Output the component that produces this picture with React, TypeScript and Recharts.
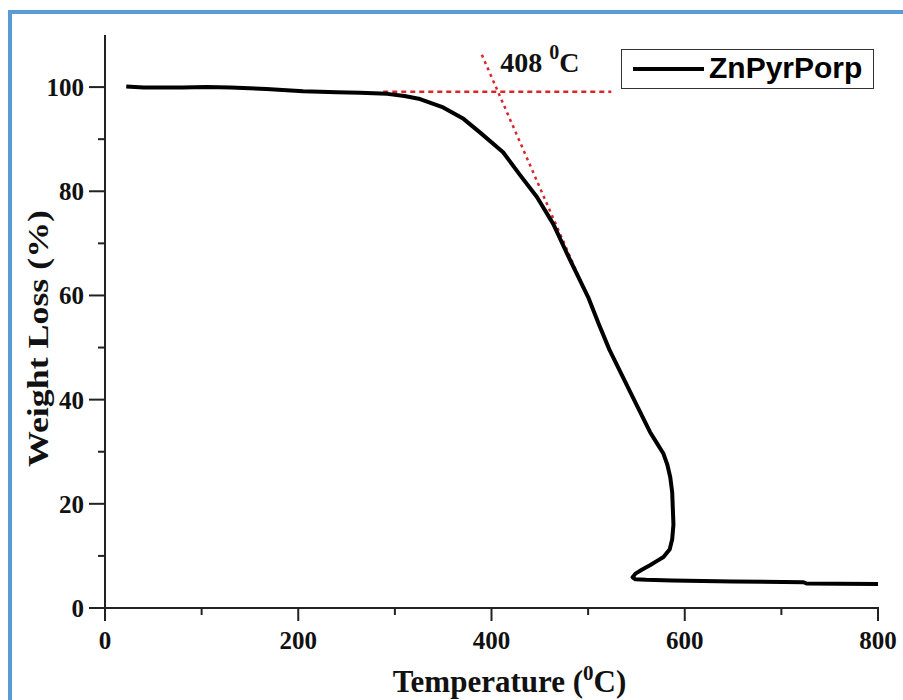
import React from 'react';
import {
  LineChart,
  Line,
  XAxis,
  YAxis,
  Legend,
  Label,
  ReferenceLine,
  ReferenceDot,
} from 'recharts';

// TGA trace (temperature in °C, weight in %)
const temps = [
  22, 40, 60, 80, 105, 130, 167, 205, 240, 264, 292, 310, 326, 350, 371,
  388, 412, 430, 447, 464, 480, 500, 511, 522, 543, 564, 571, 578, 582, 585,
  587, 588.3, 587, 584.5, 578, 571, 564, 556, 549, 546, 549, 560, 587, 650, 723,
  726, 760, 800,
];
const weights = [
  100.1, 99.9, 99.9, 99.9, 100.0, 99.9, 99.65, 99.2, 99.0, 98.9, 98.7, 98.3, 97.7, 96.1, 93.9,
  91.3, 87.5, 83.0, 78.9, 73.7, 67.3, 59.7, 54.5, 49.6, 41.7, 33.8, 31.7, 29.6, 27.5, 25.1,
  22.2, 16.0, 13.2, 11.3, 9.8, 9.0, 8.2, 7.4, 6.6, 5.9, 5.5, 5.4, 5.3, 5.1, 4.95,
  4.7, 4.65, 4.6,
];

const xTicks = [0, 100, 200, 300, 400, 500, 600, 700, 800];
const yTicks = [0, 10, 20, 30, 40, 50, 60, 70, 80, 90, 100];

// onset construction lines
const baselineSeg = [{ x: 288, y: 99.1 }, { x: 524, y: 99.1 }];
const tangentSeg = [{ x: 390, y: 106.2 }, { x: 499, y: 59.9 }];
const onsetLabel = { x: 409, y: 102.9, text: '408' };

const seriesName = 'ZnPyrPorp';

const data = temps.map((t, i) => ({ t, w: weights[i] }));

const SERIF = '"Liberation Serif", "Times New Roman", serif';
const SANS = '"Liberation Sans", Arial, sans-serif';
const AXIS = '#222';
const RED = '#d7262c';

const X_TICK = 13;
const X_GAP = 10;
const Y_TICK = 16;
const Y_GAP = 5;
const MINOR = 7;

const XTick = (props: any) => {
  const { x, y, payload } = props;
  const major = payload.value % 200 === 0;
  const axisY = y - X_TICK - X_GAP;
  return (
    <g>
      <line x1={x} x2={x} y1={axisY - 1} y2={axisY + (major ? X_TICK : MINOR)} stroke={AXIS} strokeWidth={2} />
      {major && (
        <text x={x} y={y} dy="0.71em" textAnchor="middle" fontFamily={SERIF} fontWeight="bold" fontSize={25} fill="#111">
          {payload.value}
        </text>
      )}
    </g>
  );
};

const YTick = (props: any) => {
  const { x, y, payload } = props;
  const major = payload.value % 20 === 0;
  const axisX = x + Y_TICK + Y_GAP;
  return (
    <g>
      <line x1={axisX + 1} x2={axisX - (major ? Y_TICK : MINOR)} y1={y} y2={y} stroke={AXIS} strokeWidth={2} />
      {major && (
        <text x={x} y={y} dy="0.355em" textAnchor="end" fontFamily={SERIF} fontWeight="bold" fontSize={25} fill="#111">
          {payload.value}
        </text>
      )}
    </g>
  );
};

const YTitle = (props: any) => {
  const { viewBox } = props;
  const cx = viewBox.x + 48;
  const cy = viewBox.y + viewBox.height / 2 + 17;
  return (
    <text
      x={cx}
      y={cy}
      transform={`rotate(-90, ${cx}, ${cy})`}
      textAnchor="middle"
      fontFamily={SERIF}
      fontWeight="bold"
      fontSize={30}
      fill="#111"
      textLength={257}
      lengthAdjust="spacingAndGlyphs"
    >
      Weight Loss (%)
    </text>
  );
};

const XTitle = (props: any) => {
  const { viewBox } = props;
  const cx = viewBox.x + viewBox.width / 2 + 18;
  const by = viewBox.y + 84;
  return (
    <text x={cx} y={by} textAnchor="middle" fontFamily={SERIF} fontWeight="bold" fontSize={31} fill="#111">
      <tspan>Temperature (</tspan>
      <tspan fontSize={21} dy={-12}>0</tspan>
      <tspan dy={12}>C)</tspan>
    </text>
  );
};

const OnsetText = (props: any) => {
  const { cx, cy } = props;
  return (
    <text x={cx} y={cy} fontFamily={SERIF} fontWeight="bold" fontSize={28} fill="#111">
      <tspan>{onsetLabel.text} </tspan>
      <tspan fontSize={20} dy={-13}>0</tspan>
      <tspan dy={13}>C</tspan>
    </text>
  );
};

const LegendBox = () => (
  <div
    style={{
      boxSizing: 'border-box',
      width: 253,
      height: 40,
      border: '1.5px solid #333',
      background: '#fff',
      display: 'flex',
      alignItems: 'center',
    }}
  >
    <span style={{ display: 'inline-block', width: 71, height: 4, background: '#000', marginLeft: 11 }} />
    <span style={{ fontFamily: SANS, fontWeight: 'bold', fontSize: 30, lineHeight: '30px', marginLeft: 5, color: '#000', paddingBottom: 3 }}>
      {seriesName}
    </span>
  </div>
);

export default function App() {
  return (
    <div style={{ position: 'absolute', left: 0, top: 0, width: 903, height: 700, background: '#fff' }}>
      <div
        style={{
          position: 'absolute',
          left: 8,
          top: 10,
          right: 0,
          bottom: 0,
          borderLeft: '4px solid #5b9bd5',
          borderTop: '4px solid #5b9bd5',
          pointerEvents: 'none',
        }}
      />
      <div style={{ position: 'absolute', left: 0, top: 0 }}>
        <LineChart width={903} height={700} data={data} margin={{ top: 35, right: 25, bottom: 0, left: 0 }}>
          <XAxis
            dataKey="t"
            type="number"
            domain={[0, 800]}
            ticks={xTicks}
            interval={0}
            height={92}
            tickSize={X_TICK}
            tickMargin={X_GAP}
            tickLine={false}
            tick={<XTick />}
            axisLine={{ stroke: AXIS, strokeWidth: 2 }}
          >
            <Label content={<XTitle />} />
          </XAxis>
          <XAxis
            xAxisId="top"
            orientation="top"
            type="number"
            domain={[0, 800]}
            height={0}
            tick={false}
            tickLine={false}
            axisLine={{ stroke: AXIS, strokeWidth: 2 }}
          />
          <YAxis
            type="number"
            domain={[0, 110]}
            ticks={yTicks}
            interval={0}
            width={105}
            tickSize={Y_TICK}
            tickMargin={Y_GAP}
            tickLine={false}
            tick={<YTick />}
            axisLine={{ stroke: AXIS, strokeWidth: 2 }}
          >
            <Label content={<YTitle />} />
          </YAxis>
          <YAxis
            yAxisId="right"
            orientation="right"
            type="number"
            domain={[0, 110]}
            width={0}
            tick={false}
            tickLine={false}
            axisLine={{ stroke: AXIS, strokeWidth: 2 }}
          />
          <ReferenceLine
            segment={baselineSeg}
            stroke={RED}
            strokeWidth={2.5}
            strokeDasharray="5 4"
          />
          <ReferenceLine
            segment={tangentSeg}
            stroke={RED}
            strokeWidth={2.5}
            strokeDasharray="3 4"
          />
          <Line
            type="linear"
            dataKey="w"
            name={seriesName}
            stroke="#000"
            strokeWidth={4}
            strokeLinejoin="round"
            dot={false}
            activeDot={false}
            isAnimationActive={false}
          />
          <ReferenceDot x={onsetLabel.x} y={onsetLabel.y} r={0} shape={<OnsetText />} />
          <Legend
            layout="horizontal"
            verticalAlign="middle"
            align="center"
            wrapperStyle={{ left: 621, top: 49, width: 253, height: 40 }}
            content={() => <LegendBox />}
          />
        </LineChart>
      </div>
    </div>
  );
}
